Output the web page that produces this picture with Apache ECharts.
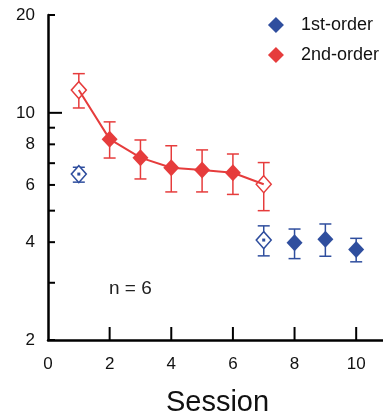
<!DOCTYPE html>
<html>
<head>
<meta charset="utf-8">
<script src="https://cdn.jsdelivr.net/npm/echarts@6/dist/echarts.min.js"></script>
<style>
  html, body { margin: 0; padding: 0; background: #fff; }
  #chart { width: 383px; height: 419px; }
</style>
</head>
<body>
<div id="chart"></div>
<script>
const RED = '#e63c3c';
const BLUE = '#2f4e9e';

// session, mean, lower, upper
const firstOpen = [[1, 6.48, 6.12, 6.80], [7, 4.06, 3.63, 4.49]];
const firstFilled = [[8, 3.98, 3.56, 4.39], [9, 4.08, 3.62, 4.55], [10, 3.80, 3.48, 4.11]];
const secondOpen = [[1, 11.75, 10.35, 13.2], [7, 6.03, 5.0, 7.03]];
const secondFilled = [[2, 8.3, 7.26, 9.38], [3, 7.28, 6.26, 8.25], [4, 6.78, 5.71, 7.92],
  [5, 6.67, 5.71, 7.69], [6, 6.54, 5.61, 7.47]];
const secondLine = [[1, 11.75], [2, 8.3], [3, 7.28], [4, 6.78], [5, 6.67], [6, 6.54], [7, 6.03]];

const yTicks = [2, 3, 4, 5, 6, 7, 8, 9, 10, 20];
const yLabels = [2, 4, 6, 8, 10, 20];
const xTicks = [0, 2, 4, 6, 8, 10];

const chart = echarts.init(document.getElementById('chart'));

function errorBars(name, color, data) {
  return {
    name: name,
    type: 'custom',
    z: 2,
    silent: true,
    data: data.map(d => [d[0], d[2], d[3]]),
    encode: { x: 0, y: [1, 2] },
    renderItem: (params, api) => {
      const lo = api.coord([api.value(0), api.value(1)]);
      const hi = api.coord([api.value(0), api.value(2)]);
      const hw = 6;
      const style = { stroke: color, lineWidth: 1.5 };
      return {
        type: 'group',
        children: [
          { type: 'line', shape: { x1: lo[0], y1: lo[1], x2: hi[0], y2: hi[1] }, style },
          { type: 'line', shape: { x1: lo[0] - hw, y1: lo[1], x2: lo[0] + hw, y2: lo[1] }, style },
          { type: 'line', shape: { x1: hi[0] - hw, y1: hi[1], x2: hi[0] + hw, y2: hi[1] }, style }
        ]
      };
    }
  };
}

function points(name, color, data, open) {
  return {
    name: name,
    type: 'scatter',
    z: 4,
    symbol: 'diamond',
    symbolSize: open ? [15, 17] : [16, 17],
    data: data.map(d => [d[0], d[1]]),
    itemStyle: open
      ? { color: '#fff', borderColor: color, borderWidth: 1.5, opacity: 1 }
      : { color: color, opacity: 1 }
  };
}

const option = {
  animation: false,
  backgroundColor: '#fff',
  textStyle: { fontFamily: 'Liberation Sans, Arial, sans-serif' },
  grid: { left: 48, right: -4, top: 15, bottom: 79, containLabel: false, outerBoundsMode: 'none' },
  legend: {
    data: ['1st-order', '2nd-order'],
    orient: 'vertical',
    right: -1,
    top: 11,
    icon: 'diamond',
    itemWidth: 16,
    itemHeight: 16,
    itemGap: 12,
    textStyle: { fontSize: 18, color: '#111', padding: [0, 0, 0, 12] }
  },
  xAxis: {
    type: 'value',
    min: 0,
    max: 11,
    interval: 2,
    splitLine: { show: false },
    axisLine: { onZero: false, lineStyle: { color: '#000', width: 2.5 } },
    axisTick: { show: false },
    axisLabel: { show: false },
    name: 'Session',
    nameLocation: 'middle',
    nameGap: 48,
    nameTextStyle: { fontSize: 29, color: '#111' }
  },
  yAxis: {
    type: 'log',
    logBase: 10,
    min: 2,
    max: 20,
    splitLine: { show: false },
    axisLine: { lineStyle: { color: '#000', width: 2.5 } },
    axisTick: { show: false },
    axisLabel: { show: false }
  },
  series: [
    // y ticks and labels placed through the log scale
    {
      type: 'custom',
      silent: true,
      z: 5,
      data: yTicks.map(v => [0, v]),
      encode: { x: 0, y: 1 },
      clip: false,
      renderItem: (params, api) => {
        const v = api.value(1);
        const p = api.coord([0, v]);
        const len = v === 10 ? 14 : 7;
        const children = [
          { type: 'line', shape: { x1: p[0], y1: p[1], x2: p[0] + len, y2: p[1] },
            style: { stroke: '#000', lineWidth: 2 } }
        ];
        if (yLabels.indexOf(v) >= 0) {
          children.push({ type: 'text', x: p[0] - 13, y: p[1],
            style: { text: String(v), fill: '#111', fontSize: 17,
              fontFamily: 'Liberation Sans, Arial, sans-serif', align: 'right', verticalAlign: 'middle' } });
        }
        return { type: 'group', children };
      }
    },
    // x ticks and labels
    {
      type: 'custom',
      silent: true,
      z: 5,
      data: xTicks.map(v => [v, 2]),
      encode: { x: 0, y: 1 },
      clip: false,
      renderItem: (params, api) => {
        const v = api.value(0);
        const p = api.coord([v, 2]);
        const children = [];
        if (v > 0) {
          children.push({ type: 'line', shape: { x1: p[0], y1: p[1], x2: p[0], y2: p[1] - 13 },
            style: { stroke: '#000', lineWidth: 2 } });
        }
        children.push({ type: 'text', x: p[0], y: p[1] + 24,
          style: { text: String(v), fill: '#111', fontSize: 17,
            fontFamily: 'Liberation Sans, Arial, sans-serif', align: 'center', verticalAlign: 'middle' } });
        return { type: 'group', children };
      }
    },
    errorBars('eb1', BLUE, firstOpen.concat(firstFilled)),
    errorBars('eb2', RED, secondOpen.concat(secondFilled)),
    points('1st-order open', BLUE, firstOpen, true),
    points('2nd-order open', RED, secondOpen, true),
    {
      name: '2nd-order line',
      type: 'line',
      z: 5,
      symbol: 'none',
      data: secondLine,
      lineStyle: { color: RED, width: 2 }
    },
    points('1st-order', BLUE, firstFilled, false),
    points('2nd-order', RED, secondFilled, false),
    // tiny centre dots on the open blue markers
    {
      type: 'scatter',
      z: 6,
      symbol: 'rect',
      symbolSize: 3,
      data: firstOpen.map(d => [d[0], d[1]]),
      itemStyle: { color: BLUE, opacity: 1 },
      silent: true
    }
  ],
  graphic: [
    { type: 'text', left: 109, top: 279,
      style: { text: 'n = 6', fontSize: 19, fill: '#222', fontFamily: 'Liberation Sans, Arial, sans-serif' } }
  ]
};

chart.setOption(option);
</script>
</body>
</html>
